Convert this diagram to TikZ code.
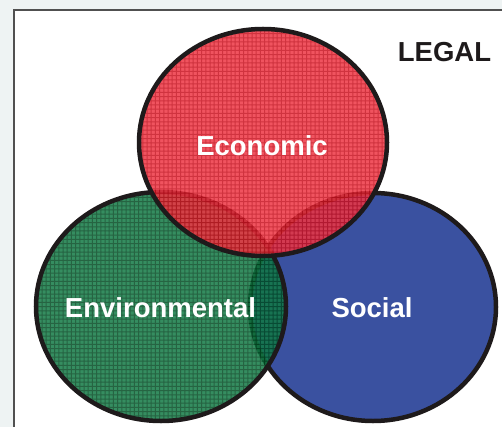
\documentclass[tikz,border=0pt]{standalone}
\usepackage{fontspec}
\setmainfont{Liberation Sans}
\definecolor{bgc}{HTML}{EEF3F3}
\definecolor{framec}{HTML}{505050}
\definecolor{redc}{HTML}{EE3644}
\definecolor{redgrid}{HTML}{C8101E}
\definecolor{greenc}{HTML}{127A45}
\definecolor{greengrid}{HTML}{004A22}
\definecolor{bluec}{HTML}{3A51A0}
\definecolor{outline}{HTML}{1E1A1B}
\tikzset{
  ring/.style={draw=outline, line width=4.5pt},
  label/.style={text=white, font=\fontsize{27.5}{30}\selectfont\bfseries, inner sep=0pt, anchor=base},
  gridlines/.style={line width=1pt, step=4.2pt}
}
\begin{document}
\begin{tikzpicture}[x=1pt,y=-1pt]
\useasboundingbox (0,0) rectangle (502,427);
\fill[bgc] (0,0) rectangle (502,427);
\draw[framec, line width=1.5pt, fill=white] (14,10) rectangle (530,450);
% blue (Social)
\fill[bluec] (373,307) ellipse [x radius=123pt, y radius=114pt];
\draw[ring] (373,307) ellipse [x radius=123pt, y radius=114pt];
% green (Environmental)
\begin{scope}[transparency group, opacity=0.85]
  \fill[greenc] (161,306.5) ellipse [x radius=125pt, y radius=114.5pt];
  \begin{scope}
    \clip (161,306.5) ellipse [x radius=125pt, y radius=114.5pt];
    \draw[greengrid, gridlines] (30,430) grid (300,185);
  \end{scope}
\end{scope}
\draw[ring] (161,306.5) ellipse [x radius=125pt, y radius=114.5pt];
% red (Economic)
\begin{scope}[transparency group, opacity=0.85]
  \fill[redc] (263,142.5) ellipse [x radius=124pt, y radius=113.5pt];
  \begin{scope}
    \clip (263,142.5) ellipse [x radius=124pt, y radius=113.5pt];
    \draw[redgrid, gridlines] (130,265) grid (400,20);
  \end{scope}
\end{scope}
\draw[ring] (263,142.5) ellipse [x radius=124pt, y radius=113.5pt];
% labels
\node[label] (eco) at (262,156) {Economic};
\node[label] (env) at (160.5,317) {Environmental};
\node[label] (soc) at (372,317) {Social};
\node[label, text=outline] (legal) at (444.5,62) {LEGAL};
\end{tikzpicture}
\end{document}
